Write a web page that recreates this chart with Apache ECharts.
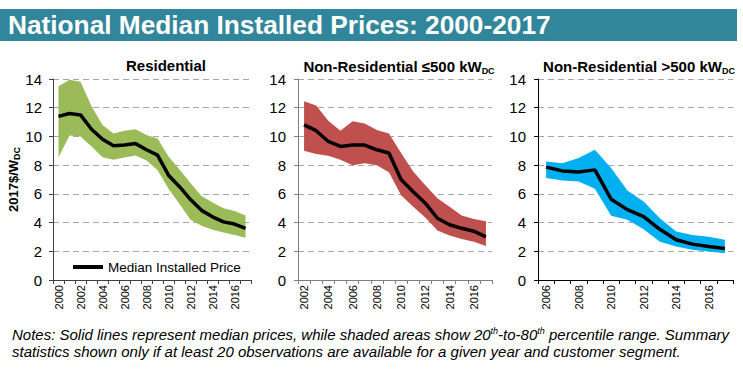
<!DOCTYPE html>
<html><head><meta charset="utf-8">
<script src="https://cdn.jsdelivr.net/npm/echarts@6/dist/echarts.min.js"></script>
<style>html,body{margin:0;padding:0;background:#fff}#c{width:743px;height:370px}</style>
</head><body><div id="c"></div>
<script>
const resYears = ['2000','2001','2002','2003','2004','2005','2006','2007','2008','2009','2010','2011','2012','2013','2014','2015','2016','2017'];
const resMedian = [11.4,11.6,11.5,10.5,9.8,9.35,9.4,9.5,9.07,8.7,7.3,6.5,5.6,4.85,4.4,4.05,3.9,3.6];
const resP80 = [13.5,13.95,13.8,12.1,10.8,10.2,10.4,10.5,10.1,9.85,8.6,7.7,6.75,5.85,5.4,5.0,4.8,4.5];
const resP20 = [8.55,10.07,10.0,9.3,8.55,8.37,8.53,8.67,8.33,7.67,6.35,5.3,4.2,3.77,3.5,3.3,3.14,2.95];

const smallYears = ['2002','2003','2004','2005','2006','2007','2008','2009','2010','2011','2012','2013','2014','2015','2016','2017'];
const smallMedian = [10.8,10.4,9.65,9.3,9.4,9.4,9.07,8.85,7.0,6.15,5.35,4.3,3.85,3.6,3.4,3.0];
const smallP80 = [12.45,12.15,11.1,10.4,11.05,10.9,10.45,10.2,8.85,7.55,6.6,5.7,5.1,4.5,4.25,4.1];
const smallP20 = [9.0,8.77,8.65,8.37,8.0,8.14,8.0,7.5,5.9,5.1,4.35,3.45,3.1,2.86,2.67,2.37];

const largeYears = ['2006','2007','2008','2009','2010','2011','2012','2013','2014','2015','2016','2017'];
const largeMedian = [7.86,7.6,7.53,7.67,5.63,4.9,4.42,3.53,2.8,2.5,2.33,2.2];
const largeP80 = [8.26,8.14,8.5,9.07,7.8,6.23,5.47,4.3,3.37,3.14,3.02,2.8];
const largeP20 = [7.1,6.93,6.86,6.35,4.47,4.19,3.53,2.67,2.33,2.1,1.98,1.86];

const yTicks = [0,2,4,6,8,10,12,14];

const panels = [
  {years: resYears, med: resMedian, hi: resP80, lo: resP20, color: '#9BBB59', left: 53, width: 198, axisColor: '#404040', margin: 11},
  {years: smallYears, med: smallMedian, hi: smallP80, lo: smallP20, color: '#C0504D', left: 298, width: 194, axisColor: '#7f7f7f', margin: 12},
  {years: largeYears, med: largeMedian, hi: largeP80, lo: largeP20, color: '#00B0F0', left: 538, width: 195, axisColor: '#000000', margin: 12}
];

const font = '"Liberation Sans", Arial, sans-serif';
const grid = [], xAxis = [], yAxis = [], series = [];
panels.forEach((p, i) => {
  grid.push({left: p.left, top: 79, width: p.width, height: 201});
  xAxis.push({
    type: 'category', gridIndex: i, data: p.years, boundaryGap: true,
    axisLine: {lineStyle: {color: p.axisColor, width: 1}},
    axisTick: {show: true, interval: 0, length: 4, lineStyle: {color: p.axisColor}},
    axisLabel: {interval: 1, rotate: 90, fontSize: 11, color: '#000', fontFamily: font, margin: 5}
  });
  yAxis.push({
    type: 'value', gridIndex: i, min: yTicks[0], max: yTicks[yTicks.length - 1], interval: 2,
    axisLine: {show: true, lineStyle: {color: p.axisColor, width: 1}},
    axisTick: {show: true, length: 4, lineStyle: {color: p.axisColor}},
    axisLabel: {fontSize: 15, color: '#000', fontFamily: font, margin: p.margin},
    splitLine: {show: true, lineStyle: {color: '#A6A6A6', type: [6, 4], width: 1}},
    name: i === 0 ? '{a|2017$/W}{s|DC}' : '',
    nameLocation: 'middle', nameRotate: 90, nameGap: 32,
    nameTextStyle: {rich: {
      a: {fontSize: 13, fontWeight: 'bold', color: '#000', fontFamily: font},
      s: {fontSize: 9, fontWeight: 'bold', color: '#000', fontFamily: font, verticalAlign: 'bottom', padding: [6, 0, 0, 0]}
    }}
  });
  series.push({
    type: 'line', xAxisIndex: i, yAxisIndex: i, stack: 'band' + i, data: p.lo,
    symbol: 'none', lineStyle: {opacity: 0}, silent: true, z: 1
  });
  series.push({
    type: 'line', xAxisIndex: i, yAxisIndex: i, stack: 'band' + i,
    data: p.hi.map((v, k) => +(v - p.lo[k]).toFixed(3)),
    symbol: 'none', lineStyle: {opacity: 0}, areaStyle: {color: p.color, opacity: 1}, silent: true, z: 2
  });
  series.push({
    name: i === 0 ? 'Median Installed Price' : 'Median ' + i,
    type: 'line', xAxisIndex: i, yAxisIndex: i, data: p.med,
    symbol: 'none', itemStyle: {color: '#000'}, lineStyle: {color: '#000', width: 3.5}, z: 5
  });
});

const chart = echarts.init(document.getElementById('c'), null, {renderer: 'svg'});
chart.setOption({
  animation: false,
  backgroundColor: '#fff',
  grid, xAxis, yAxis, series,
  legend: {
    data: [{name: 'Median Installed Price', icon: 'rect', itemStyle: {color: '#000'}}],
    left: 73, top: 260, padding: 0, itemWidth: 30, itemHeight: 4, itemGap: 4,
    textStyle: {fontSize: 13.5, color: '#000', fontFamily: font}
  },
  title: [
    {text: 'Residential', left: 161, top: 53, textAlign: 'center',
     textStyle: {fontSize: 15, fontWeight: 'bold', color: '#000', fontFamily: font}},
    {text: '{a|Non-Residential ≤500 kW}{s|DC}', left: 394, top: 53, textAlign: 'center',
     textStyle: {rich: {a: {fontSize: 15, fontWeight: 'bold', color: '#000', fontFamily: font},
       s: {fontSize: 9, fontWeight: 'bold', color: '#000', fontFamily: font, verticalAlign: 'bottom', padding: [8, 0, 0, 0]}}}},
    {text: '{a|Non-Residential >500 kW}{s|DC}', left: 634, top: 53, textAlign: 'center',
     textStyle: {rich: {a: {fontSize: 15, fontWeight: 'bold', color: '#000', fontFamily: font},
       s: {fontSize: 9, fontWeight: 'bold', color: '#000', fontFamily: font, verticalAlign: 'bottom', padding: [8, 0, 0, 0]}}}}
  ],
  graphic: [
    {type: 'rect', shape: {x: 0, y: 9, width: 737, height: 32}, style: {fill: '#31869B'}, z: -10, silent: true},
    {type: 'text', x: 8, y: 25, scaleX: 1.05, originX: 0, originY: 0, z: 10, silent: true, style: {
      text: 'National Median Installed Prices: 2000-2017',
      font: 'bold 25px "Liberation Sans", Arial, sans-serif', fill: '#fff', verticalAlign: 'middle', align: 'left'
    }},
    {type: 'text', left: 12, top: 326, z: 10, style: {
      text: '{i|Notes: Solid lines represent median prices, while shaded areas show 20}{s|th}{i|-to-80}{s|th}{i| percentile range. Summary}\n{i|statistics shown only if at least 20 observations are available for a given year and customer segment.}',
      rich: {
        i: {fontSize: 15, fontStyle: 'italic', fill: '#000', fontFamily: font, lineHeight: 17},
        s: {fontSize: 9, fontStyle: 'italic', fill: '#000', fontFamily: font, verticalAlign: 'top', lineHeight: 17, padding: [0, 0, 6, 0]}
      }
    }}
  ]
});
</script></body></html>
